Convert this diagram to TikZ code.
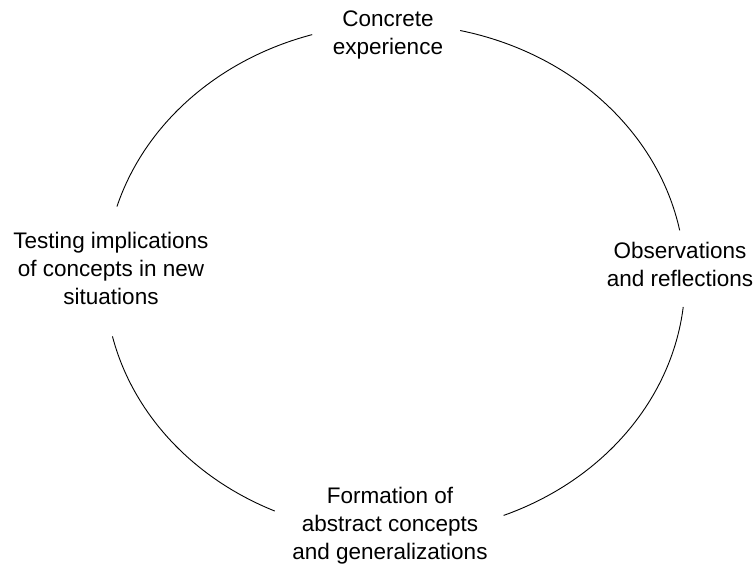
\documentclass[tikz,border=0pt]{standalone}
\usepackage{fontspec}
\setmainfont{Liberation Sans}
\begin{document}
\begin{tikzpicture}[x=1pt,y=1pt,
  lbl/.style={align=center,inner sep=0pt,anchor=base,font=\fontsize{22.5}{28}\selectfont},
  cyc/.style={line width=0.9pt}]
\useasboundingbox (0,0) rectangle (756,564);
\coordinate (c) at (395,285);
\node[lbl] (ce) at (388,509) {Concrete\\experience};
\node[lbl] (or) at (680,277) {Observations\\and reflections};
\node[lbl] (ac) at (390,4) {Formation of\\abstract concepts\\and generalizations};
\node[lbl] (ti) at (111,259) {Testing implications\\of concepts in new\\situations};
\draw[cyc] ([shift={(c)}]11:290pt and 255pt) arc[start angle=11,end angle=77,x radius=290pt,y radius=255pt];
\draw[cyc] ([shift={(c)}]106.6:290pt and 255pt) arc[start angle=106.6,end angle=163.5,x radius=290pt,y radius=255pt];
\draw[cyc] ([shift={(c)}]193:290pt and 255pt) arc[start angle=193,end angle=245.5,x radius=290pt,y radius=255pt];
\draw[cyc] ([shift={(c)}]292:290pt and 255pt) arc[start angle=292,end angle=353.7,x radius=290pt,y radius=255pt];
\end{tikzpicture}
\end{document}
